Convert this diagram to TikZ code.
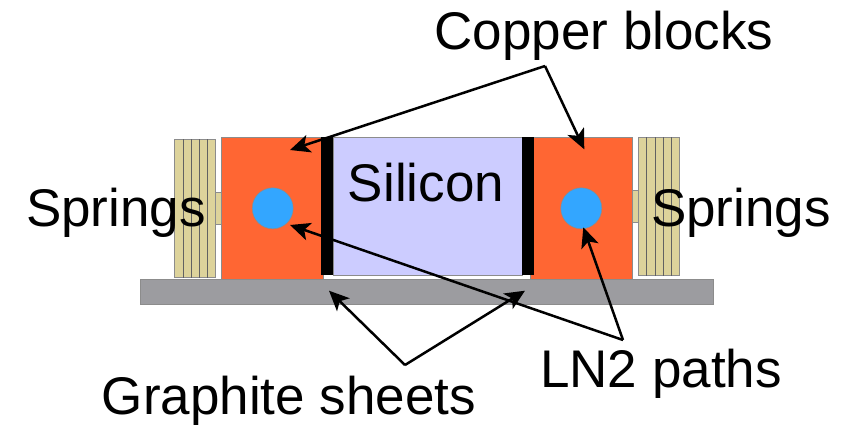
\documentclass[tikz,border=0pt]{standalone}
\usepackage{fontspec}
\setmainfont{Liberation Sans}
\usetikzlibrary{arrows.meta}
\definecolor{copperred}{RGB}{255,102,51}
\definecolor{siliconblue}{RGB}{204,204,255}
\definecolor{springtan}{RGB}{221,211,155}
\definecolor{basegray}{RGB}{156,156,160}
\definecolor{pathblue}{RGB}{51,166,255}
\definecolor{edgegray}{RGB}{140,140,140}
\tikzset{
  part/.style={rectangle,draw=edgegray,line width=0.5pt,inner sep=0pt,outer sep=0pt},
  label/.style={anchor=base,font=\fontsize{53}{53}\selectfont,inner sep=0pt},
  pointer/.style={-{Stealth[length=20pt,width=18pt,inset=5pt]},line width=2.5pt,black}
}
\begin{document}
\begin{tikzpicture}[x=1pt,y=-1pt]
        \useasboundingbox (0,0) rectangle (849,424);
        % base plate
        \node[part,fill=basegray,minimum width=573.7pt,minimum height=24.3pt] (plate) at (426.85,291.85) {};
        % springs, left then right
        \node[part,fill=springtan,minimum width=5.8pt,minimum height=32pt] (stubl) at (218.6,208.3) {};
        \node[part,fill=springtan,minimum width=41.4pt,minimum height=138.7pt] (springl) at (195,208.35) {};
        \foreach \x in {183.3,191,199,207.3}
            \draw[edgegray!70!black,line width=0.6pt] (\x,139) -- (\x,277.7);
        \node[part,fill=springtan,minimum width=5.8pt,minimum height=32pt] (stubr) at (635.5,206.3) {};
        \node[part,fill=springtan,minimum width=41.4pt,minimum height=138.7pt] (springr) at (659,206.35) {};
        \foreach \x in {646.7,655.3,663.7,671}
            \draw[edgegray!70!black,line width=0.6pt] (\x,137) -- (\x,275.7);
        % copper blocks
        \node[part,fill=copperred,minimum width=102pt,minimum height=142.7pt] (copperl) at (272.3,208.35) {};
        \node[part,fill=copperred,minimum width=102.7pt,minimum height=142.7pt] (copperr) at (581.35,208.35) {};
        % silicon and graphite sheets
        \node[part,fill=siliconblue,minimum width=189pt,minimum height=138pt] (silicon) at (427.5,206) {};
        \node[rectangle,fill=black,inner sep=0pt,minimum width=12pt,minimum height=138pt] (sheetl) at (327,206) {};
        \node[rectangle,fill=black,inner sep=0pt,minimum width=12pt,minimum height=138pt] (sheetr) at (528,206) {};
        % LN2 holes
        \node[part,circle,fill=pathblue,minimum size=41pt] (holel) at (272.7,208.3) {};
        \node[part,circle,fill=pathblue,minimum size=41pt] (holer) at (581.3,208.3) {};
        % labels
        \node[label] (copperlabel) at (604,49.5) {Copper blocks};
        \node[label] (siliconlabel) at (426,201) {Silicon};
        \node[label] (springlabell) at (116,226) {Springs};
        \node[label] (springlabelr) at (741,226) {Springs};
        \node[label] (lnlabel) at (661,387) {LN2 paths};
        \node[label] (graphitelabel) at (289,414) {Graphite sheets};
        % pointers
        \coordinate (copperhub) at (545,66);
        \coordinate (lnhub) at (623,340);
        \coordinate (graphitehub) at (405,365);
        \coordinate (coppertipl) at (290,150);
        \coordinate (coppertipr) at (584.3,149.3);
        \coordinate (lntipl) at (290,225);
        \coordinate (lntipr) at (583.3,227.3);
        \coordinate (graphitetipl) at (329,290.7);
        \coordinate (graphitetipr) at (525,290.7);
        \draw[pointer] (copperhub) -- (coppertipl);
        \draw[pointer] (copperhub) -- (coppertipr);
        \draw[pointer] (lnhub) -- (lntipl);
        \draw[pointer] (lnhub) -- (lntipr);
        \draw[pointer] (graphitehub) -- (graphitetipl);
        \draw[pointer] (graphitehub) -- (graphitetipr);
    \end{tikzpicture}
\end{document}
